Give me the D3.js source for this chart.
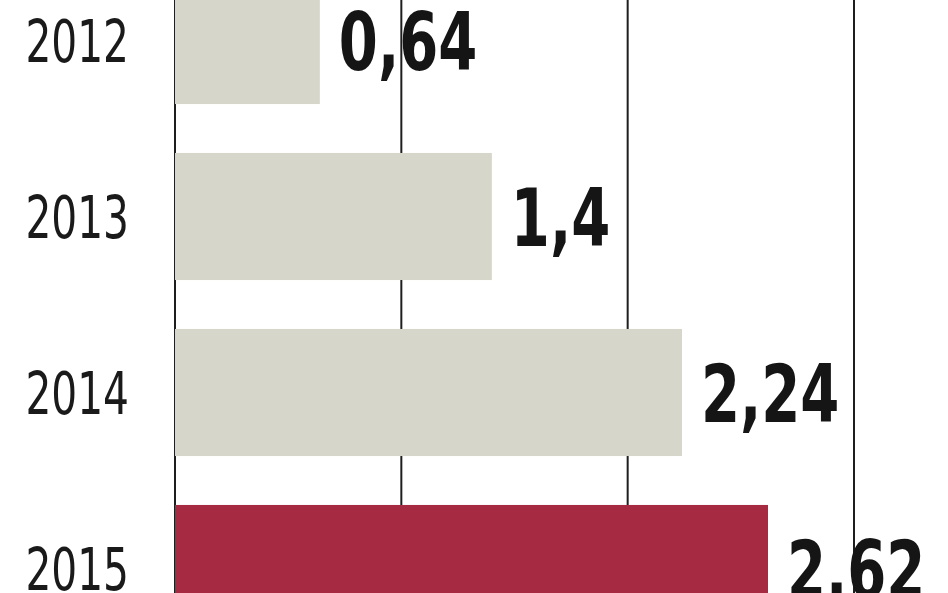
<!DOCTYPE html>
<html>
<head>
<meta charset="utf-8">
<script src="https://cdn.jsdelivr.net/npm/d3@7/dist/d3.min.js"></script>
<style>
html,body{margin:0;padding:0;background:#fff;overflow:hidden;}
svg{display:block;}
</style>
</head>
<body>
<svg id="chart" width="948" height="593"></svg>
<script>
const years = ["2012", "2013", "2014", "2015"];
const values = [0.64, 1.4, 2.24, 2.62];
const valueLabels = ["0,64", "1,4", "2,24", "2,62"];
const highlight = [false, false, false, true];
const xTicks = [0, 1, 2, 3];

const W = 948, H = 593;
const svg = d3.select("#chart");

const x = d3.scaleLinear().domain([0, 3]).range([175, 854]);
const y = d3.scaleBand().domain(years).range([-47.5, 656.5])
  .paddingInner(0.278).paddingOuter(0.139);

// grid lines (behind bars)
svg.append("g").selectAll("line").data(xTicks).join("line")
  .attr("x1", d => x(d)).attr("x2", d => x(d))
  .attr("y1", 0).attr("y2", H)
  .attr("stroke", "#1e1e1e").attr("stroke-width", 2);

// bars
svg.append("g").selectAll("rect").data(years).join("rect")
  .attr("x", x(0))
  .attr("y", d => y(d))
  .attr("width", (d, i) => x(values[i]) - x(0))
  .attr("height", y.bandwidth())
  .attr("fill", (d, i) => highlight[i] ? "#a52a42" : "#d6d6ca");

const fam = "'Liberation Sans Narrow', 'Arial Narrow', 'DejaVu Sans Condensed', sans-serif";

// year labels
svg.append("g").selectAll("text").data(years).join("text")
  .attr("transform", d => `translate(129,${y(d) + y.bandwidth() / 2 + 21}) scale(0.78,1)`)
  .attr("text-anchor", "end")
  .attr("font-family", fam)
  .attr("font-stretch", "condensed")
  .attr("font-size", 58)
  .attr("fill", "#1a1a1a")
  .text(d => d);

// value labels
svg.append("g").selectAll("text").data(years).join("text")
  .attr("transform", (d, i) => `translate(${x(values[i]) + 19},${y(d) + y.bandwidth() / 2 + 29}) scale(0.77,1)`)
  .attr("font-family", fam)
  .attr("font-stretch", "condensed")
  .attr("font-weight", "bold")
  .attr("font-size", 81)
  .attr("fill", "#151515")
  .text((d, i) => valueLabels[i]);
</script>
</body>
</html>
